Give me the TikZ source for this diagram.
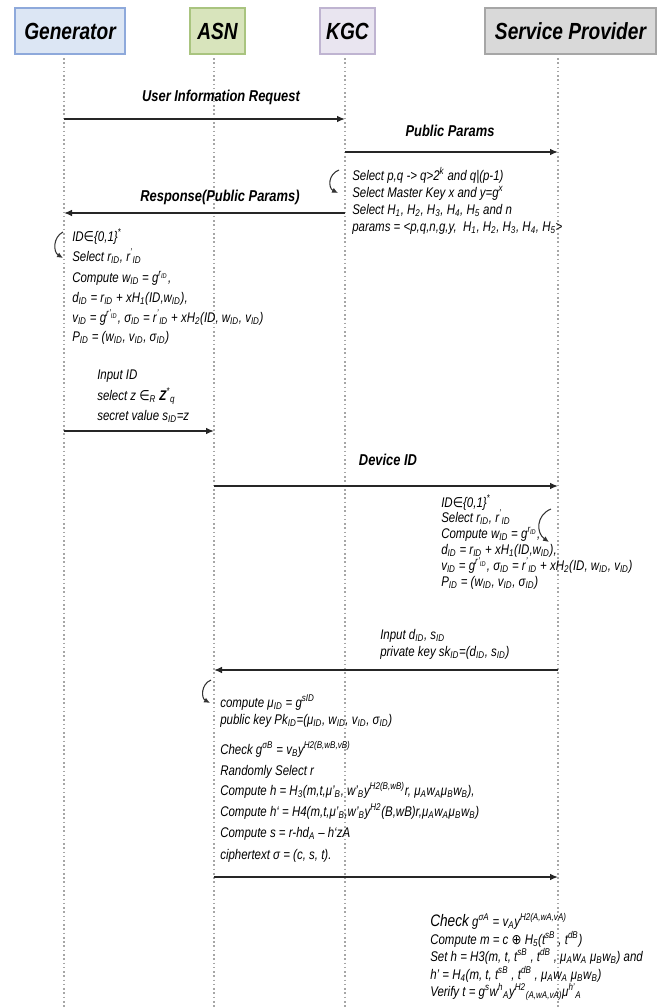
\documentclass[tikz,border=0pt]{standalone}
\usepackage{fontspec}
\setmainfont{Liberation Sans}[FakeStretch=0.82]
\newfontfamily\symf{DejaVu Sans}[FakeStretch=0.85]
\usetikzlibrary{arrows.meta}
\newcommand\sB[1]{\textsubscript{#1}}
\newcommand\sP[1]{\textsuperscript{#1}}
\newcommand\elem{{\symf\itshape ∈}}
\newcommand\oplu{{\symf ⊕}}
\definecolor{genfill}{HTML}{DCE6F4}
\definecolor{gendraw}{HTML}{8EA9DB}
\definecolor{asnfill}{HTML}{D8E4BC}
\definecolor{asndraw}{HTML}{A9C47F}
\definecolor{kgcfill}{HTML}{E9E5F0}
\definecolor{kgcdraw}{HTML}{BFB4D1}
\definecolor{spfill}{HTML}{D9D9D9}
\definecolor{spdraw}{HTML}{A6A6A6}
\tikzset{
  hdr/.style={draw, line width=1pt, inner sep=0, minimum height=34.5pt,
    font=\fontsize{17.5}{19}\selectfont\bfseries\itshape},
  life/.style={gray!70, line width=0.8pt, dash pattern=on 1.2pt off 2pt},
  msg/.style={line width=1.1pt, black!85, -{Latex[length=6pt,width=5pt]}},
  lbl/.style={inner sep=0, font=\fontsize{11.8}{13}\selectfont\bfseries\itshape},
  txt/.style={anchor=base west, inner sep=0, font=\fontsize{10.5}{12}\selectfont\itshape},
  self/.style={line width=0.8pt, black!80, -{Latex[length=4.5pt,width=4pt]}}
}
\begin{document}
\begin{tikzpicture}[x=0.75pt,y=-0.75pt]
\useasboundingbox (0,0) rectangle (669,1007);
% headers
\node[hdr, fill=genfill, draw=gendraw, minimum width=82.5pt] (gen) at (70,31) {Generator};
\node[hdr, fill=asnfill, draw=asndraw, minimum width=41.25pt] (asn) at (217.5,31) {ASN};
\node[hdr, fill=kgcfill, draw=kgcdraw, minimum width=41.25pt] (kgc) at (347.5,31) {KGC};
\node[hdr, fill=spfill, draw=spdraw, minimum width=128.25pt] (sp) at (570.5,31) {Service Provider};
% lifelines
\coordinate (genT) at (64,58);  \coordinate (genB) at (64,1007);
\coordinate (asnT) at (214,58); \coordinate (asnB) at (214,1007);
\coordinate (kgcT) at (345,58); \coordinate (kgcB) at (345,1007);
\coordinate (spT) at (558,58);  \coordinate (spB) at (558,1007);
\draw[life] (genT) -- (genB);
\draw[life] (asnT) -- (asnB);
\draw[life] (kgcT) -- (kgcB);
\draw[life] (spT) -- (spB);
% message end points
\coordinate (m1a) at (64,119);  \coordinate (m1b) at (345,119);
\coordinate (m2a) at (345,152); \coordinate (m2b) at (558,152);
\coordinate (m3a) at (345,213); \coordinate (m3b) at (64,213);
\coordinate (m4a) at (64,431);  \coordinate (m4b) at (214,431);
\coordinate (m5a) at (214,486); \coordinate (m5b) at (558,486);
\coordinate (m6a) at (558,670); \coordinate (m6b) at (214,670);
\coordinate (m7a) at (214,877); \coordinate (m7b) at (558,877);
\draw[msg] (m1a) -- (m1b);
\draw[msg] (m2a) -- (m2b);
\draw[msg] (m3a) -- (m3b);
\draw[msg] (m4a) -- (m4b);
\draw[msg] (m5a) -- (m5b);
\draw[msg] (m6a) -- (m6b);
\draw[msg] (m7a) -- (m7b);
% labels
\node[lbl] (l1) at (221,97) {User Information Request};
\node[lbl] (l2) at (450,131) {Public Params};
\node[lbl] (l3) at (220,197) {Response(Public Params)};
\node[lbl] (l4) at (388,460) {Device ID};
% self arrows
\coordinate (s1a) at (339,170); \coordinate (s1b) at (338,193);
\draw[self] (s1a) .. controls (328,174) and (328,188) .. (s1b);
\coordinate (s2a) at (63,232); \coordinate (s2b) at (63,258);
\draw[self] (s2a) .. controls (53,237) and (53,252) .. (s2b);
\coordinate (s3a) at (551,509); \coordinate (s3b) at (549,542);
\draw[self] (s3a) .. controls (536,515) and (536,533) .. (s3b);
\coordinate (s4a) at (211,680); \coordinate (s4b) at (210,703);
\draw[self] (s4a) .. controls (201,684) and (201,698) .. (s4b);
% KGC block
\node[txt] (k1) at (352,180) {Select p,q -> q>2\sP{k} and q|(p-1)};
\node[txt] (k2) at (352,197) {Select Master Key x and y=g\sP{x}};
\node[txt] (k3) at (352,214) {Select H\sB1, H\sB2, H\sB3, H\sB4, H\sB5 and n};
\node[txt] (k4) at (352,231) {params = <p,q,n,g,y,\ \ H\sB1, H\sB2, H\sB3, H\sB4, H\sB5>};
% Generator block
\node[txt] (g1) at (72,241) {ID\elem\{0,1\}\sP{*}};
\node[txt] (g2) at (72,261) {Select r\sB{ID}, r\sP{'}\sB{ID}};
\node[txt] (g3) at (72,282) {Compute w\sB{ID} = g\sP{r\sB{ID}},};
\node[txt] (g4) at (72,302) {d\sB{ID} = r\sB{ID} + xH\sB1(ID,w\sB{ID}),};
\node[txt] (g5) at (72,322) {v\sB{ID} = g\sP{r'\sB{ID}}, σ\sB{ID} = r\sP{'}\sB{ID} + xH\sB2(ID, w\sB{ID}, v\sB{ID})};
\node[txt] (g6) at (72,341) {P\sB{ID} = (w\sB{ID}, v\sB{ID}, σ\sB{ID})};
% Input ID block
\node[txt] (i1) at (97,379) {Input ID};
\node[txt] (i2) at (97,400) {select z \elem\sB{R} \textbf{Z}\sP{*}\sB{q}};
\node[txt] (i3) at (97,420) {secret value s\sB{ID}=z};
% SP block
\node[txt] (p1) at (441,507) {ID\elem\{0,1\}\sP{*}};
\node[txt] (p2) at (441,522) {Select r\sB{ID}, r\sP{'}\sB{ID}};
\node[txt] (p3) at (441,538) {Compute w\sB{ID} = g\sP{r\sB{ID}},};
\node[txt] (p4) at (441,554) {d\sB{ID} = r\sB{ID} + xH\sB1(ID,w\sB{ID}),};
\node[txt] (p5) at (441,570) {v\sB{ID} = g\sP{r'\sB{ID}}, σ\sB{ID} = r\sP{'}\sB{ID} + xH\sB2(ID, w\sB{ID}, v\sB{ID})};
\node[txt] (p6) at (441,586) {P\sB{ID} = (w\sB{ID}, v\sB{ID}, σ\sB{ID})};
% Input d block
\node[txt] (d1) at (380,639) {Input d\sB{ID}, s\sB{ID}};
\node[txt] (d2) at (380,656) {private key sk\sB{ID}=(d\sB{ID}, s\sB{ID})};
% ASN block
\node[txt] (a1) at (220,707) {compute μ\sB{ID} = g\sP{sID}};
\node[txt] (a2) at (220,724) {public key Pk\sB{ID}=(μ\sB{ID}, w\sB{ID}, v\sB{ID}, σ\sB{ID})};
\node[txt] (a3) at (220,754) {Check g\sP{σB} = v\sB{B}y\sP{H2(B,wB,vB)}};
\node[txt] (a4) at (220,775) {Randomly Select r};
\node[txt] (a5) at (220,795) {Compute h = H\sB3(m,t,μ'\sB{B}, w'\sB{B}y\sP{H2(B,wB)}r, μ\sB{A}w\sB{A}μ\sB{B}w\sB{B}),};
\node[txt] (a6) at (220,816) {Compute h` = H4(m,t,μ'\sB{B},w'\sB{B}y\sP{H2}(B,wB)r,μ\sB{A}w\sB{A}μ\sB{B}w\sB{B})};
\node[txt] (a7) at (220,837) {Compute s = r-hd\sB{A} – h`zA};
\node[txt] (a8) at (220,859) {ciphertext σ = (c, s, t).};
% bottom SP block
\node[txt] (b1) at (430,926) {{\fontsize{12.5}{14}\selectfont Check} g\sP{σA} = v\sB{A}y\sP{H2(A,wA,vA)}};
\node[txt] (b2) at (430,944) {Compute m = c \oplu\ H\sB5(t\sP{sB} , t\sP{dB})};
\node[txt] (b3) at (430,961) {Set h = H3(m, t, t\sP{sB} , t\sP{dB} , μ\sB{A}w\sB{A} μ\sB{B}w\sB{B}) and};
\node[txt] (b4) at (430,979) {h' = H\sB4(m, t, t\sP{sB} , t\sP{dB} , μ\sB{A}w\sB{A} μ\sB{B}w\sB{B})};
\node[txt] (b5) at (430,996) {Verify t = g\sP{s}w\sP{h}\sB{A}y\sP{H2}\sB{(A,wA,vA)}μ\sP{h'}\sB{A}};
\end{tikzpicture}
\end{document}
